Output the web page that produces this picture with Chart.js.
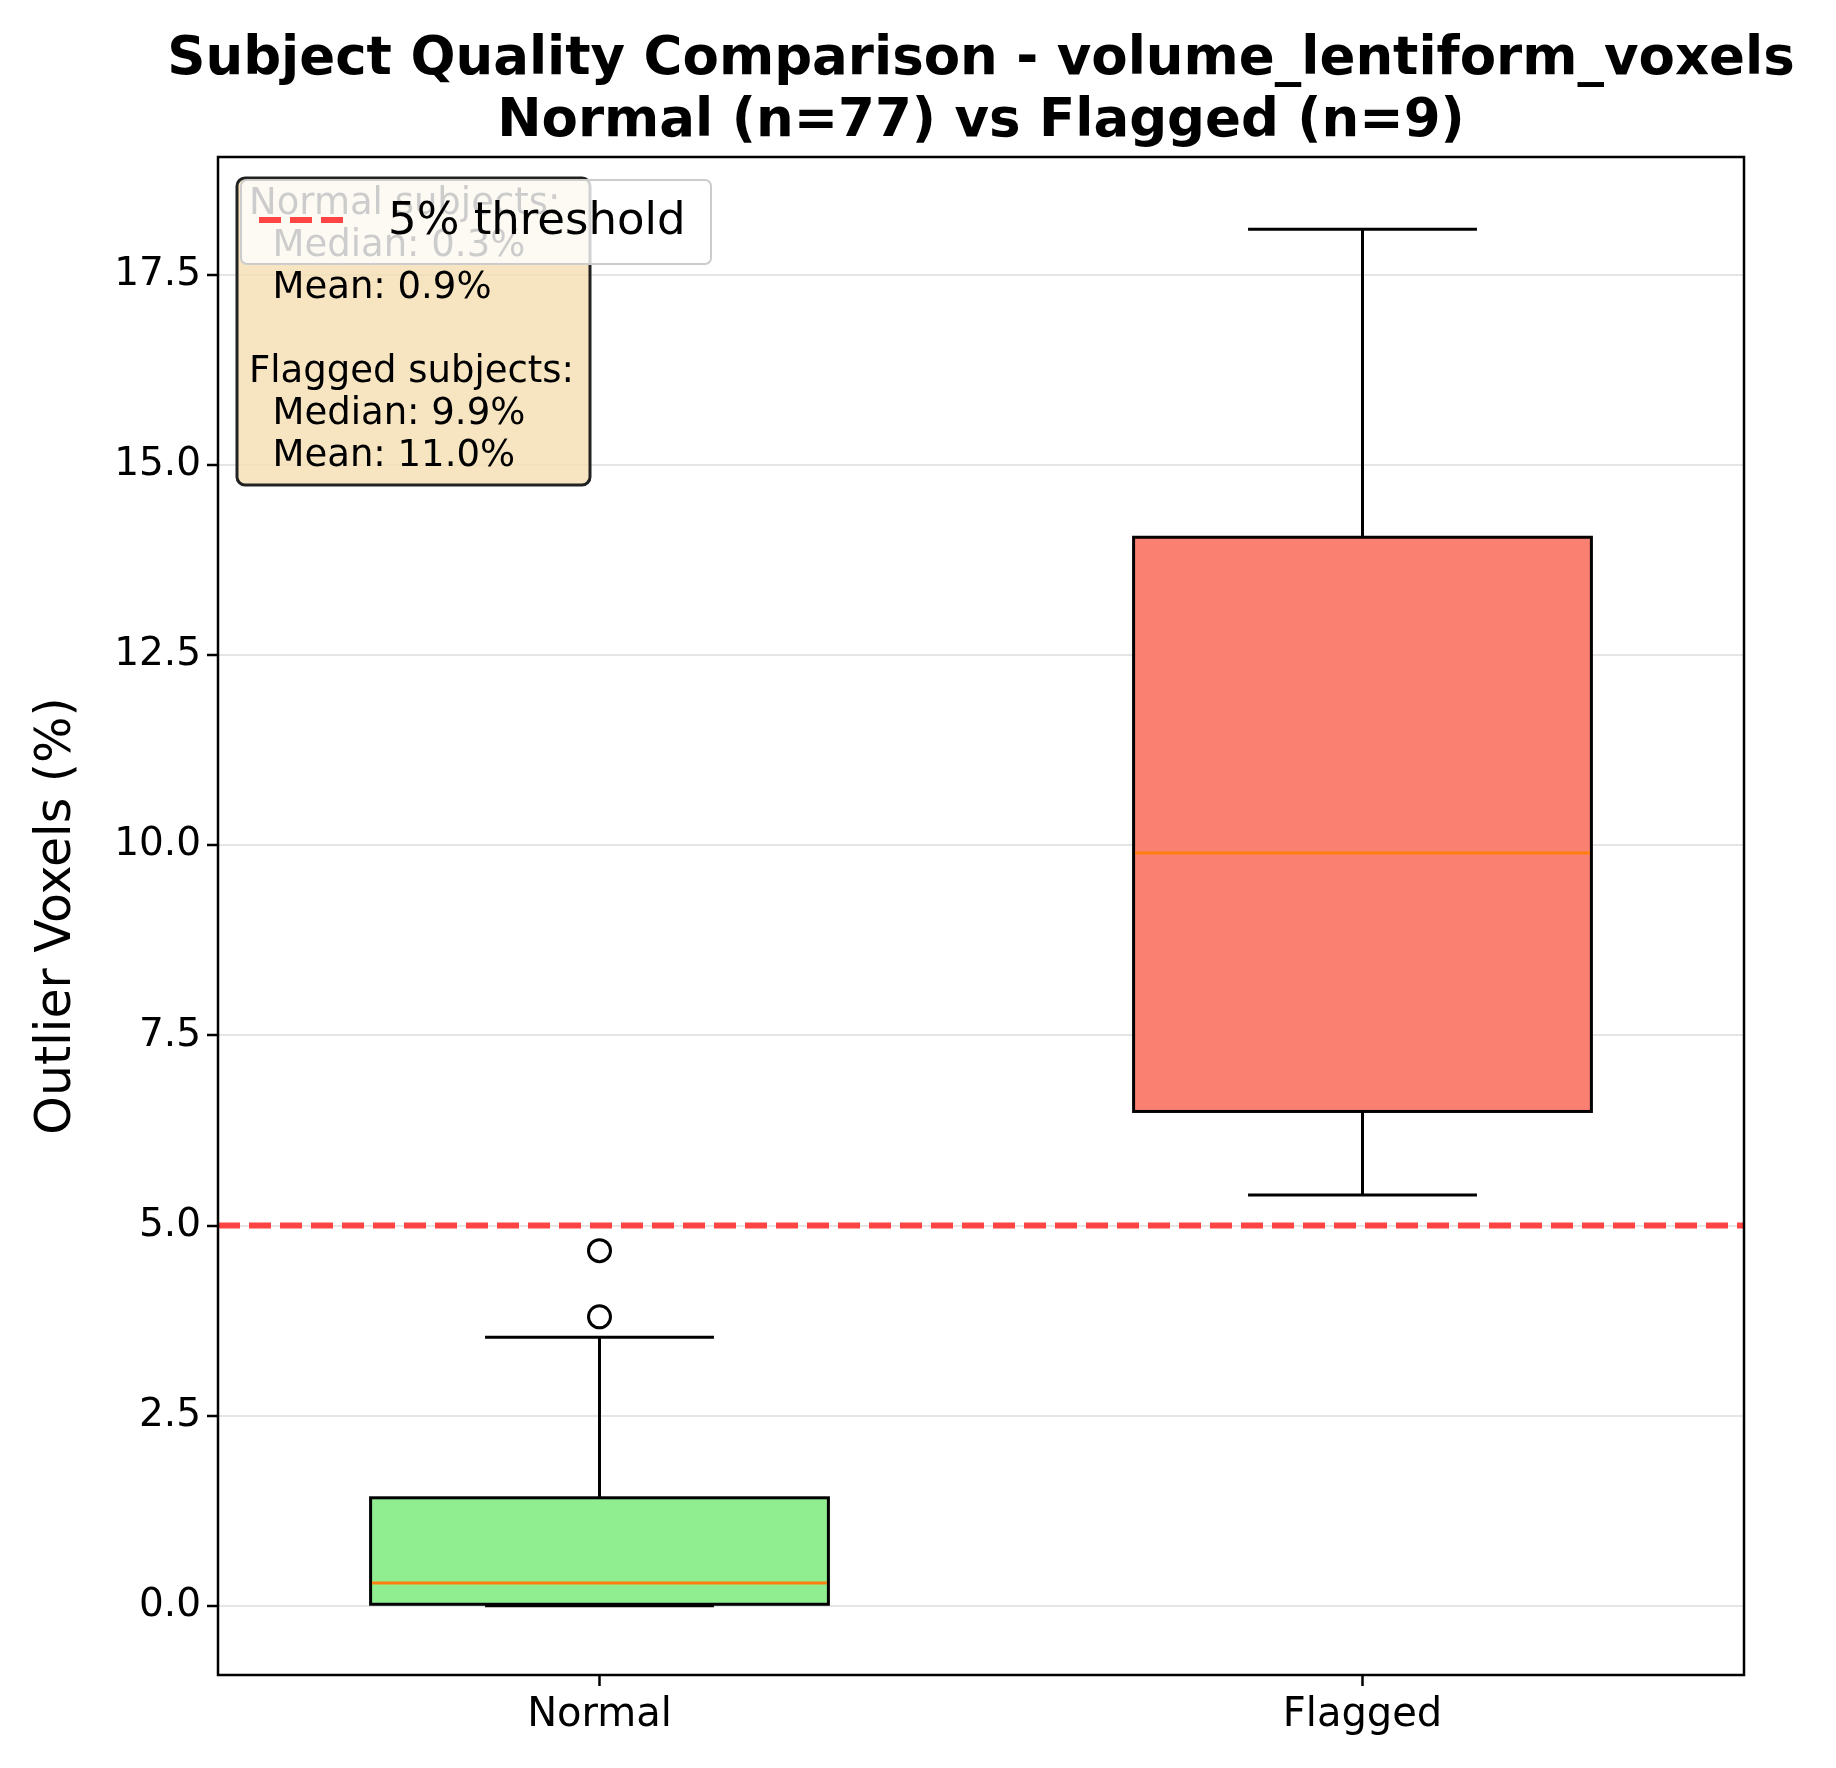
<!DOCTYPE html>
<html>
<head>
<script src="https://cdn.jsdelivr.net/npm/chart.js@4"></script>
<style>body{margin:0;background:#fff}</style>
</head>
<body>
<canvas id="c" width="1836" height="1768"></canvas>
<script>
var groups = ["Normal", "Flagged"];
var positions = [1, 2];
var boxColors = ["#90ee90", "#fa8072"];
var lowWhisker = [0.0, 5.4];
var q1 = [0.02, 6.5];
var median = [0.3, 9.9];
var q3 = [1.42, 14.05];
var highWhisker = [3.53, 18.1];
var outliers = [[3.8, 4.67], []];
var threshold = 5;
var yTicks = [0, 2.5, 5, 7.5, 10, 12.5, 15, 17.5];
var statLines = ["Normal subjects:", "  Median: 0.3%", "  Mean: 0.9%", "", "Flagged subjects:", "  Median: 9.9%", "  Mean: 11.0%"];

var FONT = "'DejaVu Sans', sans-serif";
var LW = 3;
var datasets = [];
positions.forEach(function(p, i) {
  // whiskers
  datasets.push({data: [{x: p, y: q1[i]}, {x: p, y: lowWhisker[i]}], showLine: true, borderColor: "#000", borderWidth: LW, pointRadius: 0});
  datasets.push({data: [{x: p, y: q3[i]}, {x: p, y: highWhisker[i]}], showLine: true, borderColor: "#000", borderWidth: LW, pointRadius: 0});
  // caps
  datasets.push({data: [{x: p - 0.15, y: lowWhisker[i]}, {x: p + 0.15, y: lowWhisker[i]}], showLine: true, borderColor: "#000", borderWidth: LW, pointRadius: 0});
  datasets.push({data: [{x: p - 0.15, y: highWhisker[i]}, {x: p + 0.15, y: highWhisker[i]}], showLine: true, borderColor: "#000", borderWidth: LW, pointRadius: 0});
  // fliers
  datasets.push({data: outliers[i].map(function(v) { return {x: p, y: v}; }), showLine: false, pointRadius: 11, pointBorderWidth: LW, pointBorderColor: "#000", pointBackgroundColor: "rgba(0,0,0,0)"});
});
datasets.push({data: [{x: 0.5, y: threshold}, {x: 2.5, y: threshold}], showLine: true, borderColor: "#ff4444", borderWidth: 6, borderDash: [22, 9], pointRadius: 0});

var boxPlugin = {
  id: "boxes",
  beforeDatasetsDraw: function(chart) {
    var ctx = chart.ctx, xs = chart.scales.x, ys = chart.scales.y;
    positions.forEach(function(p, i) {
      var x0 = xs.getPixelForValue(p - 0.3), x1 = xs.getPixelForValue(p + 0.3);
      var y0 = ys.getPixelForValue(q3[i]), y1 = ys.getPixelForValue(q1[i]);
      ctx.save();
      ctx.fillStyle = boxColors[i];
      ctx.fillRect(x0, y0, x1 - x0, y1 - y0);
      ctx.lineWidth = LW; ctx.strokeStyle = "#000";
      ctx.strokeRect(x0, y0, x1 - x0, y1 - y0);
      var ym = ys.getPixelForValue(median[i]);
      ctx.strokeStyle = "#ff7f0e"; ctx.lineWidth = 3;
      ctx.beginPath(); ctx.moveTo(x0 + 1.5, ym); ctx.lineTo(x1 - 1.5, ym); ctx.stroke();
      ctx.restore();
    });
  },
  afterDraw: function(chart) {
    var ctx = chart.ctx, a = chart.chartArea;
    ctx.save();
    // frame
    ctx.strokeStyle = "#000"; ctx.lineWidth = 2.5;
    ctx.strokeRect(a.left, a.top, a.right - a.left, a.bottom - a.top);
    // title
    ctx.fillStyle = "#000"; ctx.textAlign = "center"; ctx.textBaseline = "alphabetic";
    ctx.font = "bold 53px " + FONT;
    var cx = (a.left + a.right) / 2;
    ctx.fillText("Subject Quality Comparison - volume_lentiform_voxels", cx, 74);
    ctx.fillText("Normal (n=77) vs Flagged (n=9)", cx, 136);
    // stats box
    ctx.fillStyle = "rgba(245,222,179,0.8)"; ctx.strokeStyle = "#222"; ctx.lineWidth = 3;
    ctx.beginPath(); ctx.roundRect(237, 178, 353, 307, 8); ctx.fill(); ctx.stroke();
    ctx.fillStyle = "#000"; ctx.textAlign = "left"; ctx.font = "37px " + FONT;
    statLines.forEach(function(t, i) { ctx.fillText(t, 249, 214 + i * 42); });
    // legend
    ctx.fillStyle = "rgba(255,255,255,0.8)"; ctx.strokeStyle = "#ccc"; ctx.lineWidth = 2;
    ctx.beginPath(); ctx.roundRect(241, 180, 470, 84, 6); ctx.fill(); ctx.stroke();
    ctx.strokeStyle = "#ff4444"; ctx.lineWidth = 6; ctx.setLineDash([22, 9]);
    ctx.beginPath(); ctx.moveTo(259, 220); ctx.lineTo(351, 220); ctx.stroke();
    ctx.setLineDash([]);
    ctx.fillStyle = "#000"; ctx.font = "45px " + FONT; ctx.textBaseline = "middle";
    ctx.fillText("5% threshold", 388, 222);
    ctx.restore();
  }
};

new Chart(document.getElementById("c"), {
  type: "scatter",
  data: {datasets: datasets},
  plugins: [boxPlugin],
  options: {
    responsive: false, animation: false,
    layout: {padding: {top: 157, right: 92, left: 24, bottom: 0}},
    plugins: {legend: {display: false}, tooltip: {enabled: false}},
    scales: {
      x: {
        type: "linear", min: 0.5, max: 2.5,
        afterBuildTicks: function(s) { s.ticks = positions.map(function(v) { return {value: v}; }); },
        afterFit: function(s) { s.height = 93; },
        ticks: {callback: function(v) { return groups[positions.indexOf(v)]; }, color: "#000", font: {family: FONT, size: 40}, padding: 6},
        grid: {drawOnChartArea: false, tickLength: 11, color: "#000", tickWidth: 2.5},
        border: {display: false}
      },
      y: {
        min: -0.91, max: 19.05,
        afterBuildTicks: function(s) { s.ticks = yTicks.map(function(v) { return {value: v}; }); },
        afterFit: function(s) { s.width = 194; },
        ticks: {callback: function(v) { return v.toFixed(1); }, color: "#000", font: {family: FONT, size: 39}, padding: 6},
        grid: {color: "rgba(0,0,0,0.1)", lineWidth: 2, tickLength: 11, tickColor: "#000", tickWidth: 2.5},
        border: {display: false},
        title: {display: true, text: "Outlier Voxels (%)", color: "#000", font: {family: FONT, size: 49}, padding: {bottom: 8}}
      }
    }
  }
});
</script>
</body>
</html>
